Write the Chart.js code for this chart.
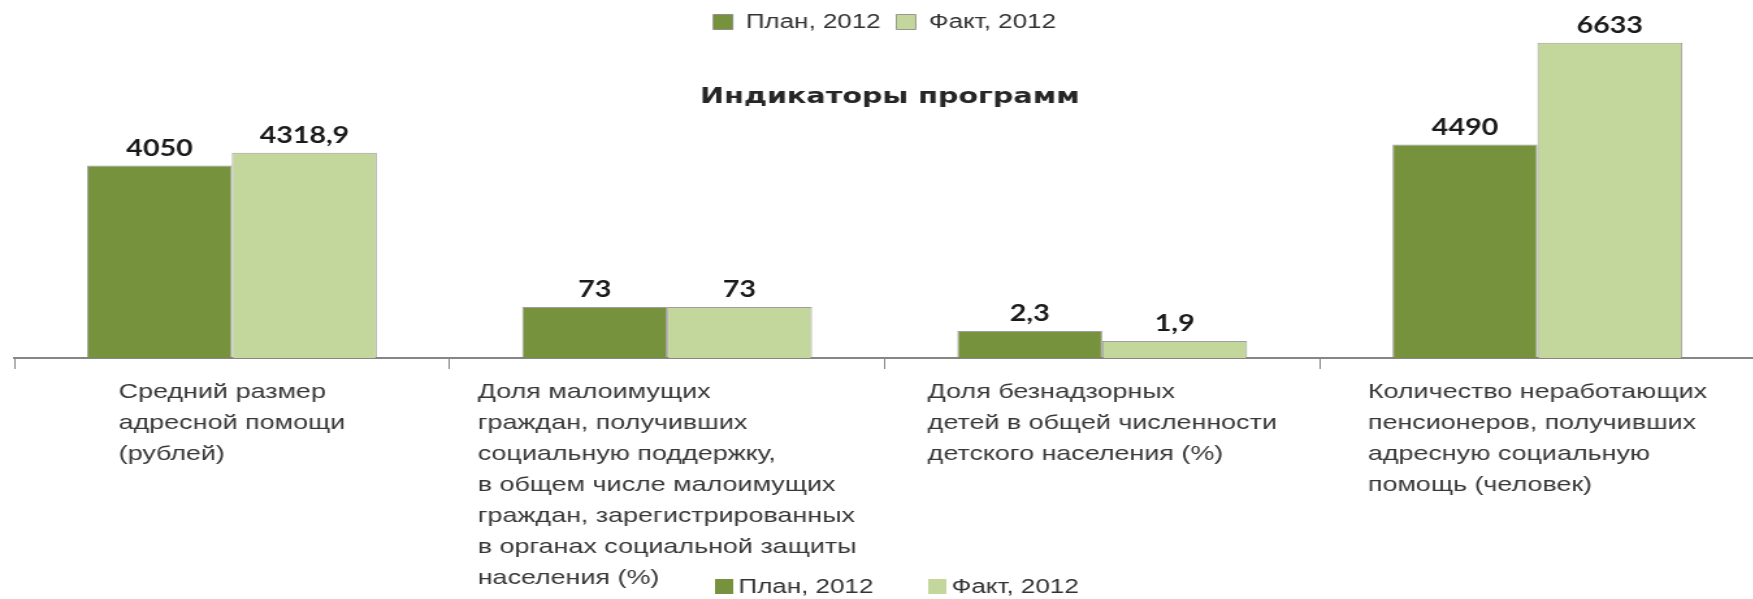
<!DOCTYPE html>
<html>
<head>
<meta charset="utf-8">
<script src="https://cdn.jsdelivr.net/npm/chart.js@4/dist/chart.umd.min.js"></script>
<style>
  html, body { margin: 0; padding: 0; background: #ffffff; overflow: hidden; }
  #wrap { width: 1753px; height: 599px; overflow: hidden; }
</style>
</head>
<body>
<div id="wrap"><canvas id="c" width="1350" height="599" style="display:block;width:1755px;height:599px"></canvas></div>
<script>
// ---- data ----
const categories = [
  ["Средний размер", "адресной помощи", "(рублей)"],
  ["Доля малоимущих", "граждан, получивших", "социальную поддержку,", "в общем числе малоимущих", "граждан, зарегистрированных", "в органах социальной защиты", "населения (%)"],
  ["Доля безнадзорных", "детей в общей численности", "детского населения (%)"],
  ["Количество неработающих", "пенсионеров, получивших", "адресную социальную", "помощь (человек)"]
];
const seriesNames = ["План, 2012", "Факт, 2012"];
const planValues = [4050, 73, 2.3, 4490];
const factValues = [4318.9, 73, 1.9, 6633];
// each indicator has its own unit, so each is drawn on its own value axis
const axisByCategory = ["y", "y2", "y3", "y"];
const chartTitle = "Индикаторы программ";

// ---- styles ----
const seriesColors = ["#76923C", "#C3D69B"];
const axisRanges = { y: [0, 6648], y2: [0, 452], y3: [1.22, 13.86] };

const datasets = [];
[planValues, factValues].forEach((vals, s) => {
  ["y", "y2", "y3"].forEach((axisId, k) => {
    datasets.push({
      label: seriesNames[s],
      data: vals.map((v, i) => axisByCategory[i] === axisId ? v : null),
      yAxisID: axisId,
      stack: "s" + s,
      base: axisRanges[axisId][0],
      backgroundColor: seriesColors[s],
      borderColor: "rgba(125,125,125,0.75)",
      borderWidth: 1,
      categoryPercentage: 0.666,
      barPercentage: 1.0,
      inLegend: k === 0
    });
  });
});

const fmt = v => String(v).replace(".", ",");

const valueLabels = {
  id: "valueLabels",
  afterDatasetsDraw(chart) {
    const ctx = chart.ctx;
    ctx.save();
    ctx.font = "bold 22px Lato";
    ctx.fillStyle = "#1a1a1a";
    ctx.textAlign = "center";
    ctx.textBaseline = "middle";
    chart.data.datasets.forEach((ds, di) => {
      const meta = chart.getDatasetMeta(di);
      meta.data.forEach((el, i) => {
        const v = ds.data[i];
        if (v === null || v === undefined) return;
        ctx.fillText(fmt(v), el.x, el.y - 17);
      });
    });
    ctx.restore();
  }
};

const extras = {
  id: "extras",
  afterDraw(chart) {
    const ctx = chart.ctx;
    const xs = chart.scales.x;
    const area = chart.chartArea;
    ctx.save();
    // title
    ctx.font = "bold 22px 'DejaVu Sans'";
    ctx.fillStyle = "#262626";
    ctx.textAlign = "center";
    ctx.textBaseline = "middle";
    ctx.fillText(chartTitle, (area.left + area.right) / 2 + 4, 97);
    // category labels: block centred under the group, lines left aligned
    ctx.font = "20.7px 'Liberation Sans'";
    ctx.fillStyle = "#383838";
    ctx.textAlign = "left";
    categories.forEach((lines, i) => {
      const cx = xs.getPixelForValue(i);
      const w = Math.max(...lines.map(l => ctx.measureText(l).width));
      lines.forEach((l, k) => ctx.fillText(l, cx - w / 2, 392 + k * 31));
    });
    // bottom legend
    ctx.font = "20px 'Liberation Sans'";
    const items = [[550, 568], [714, 732]];
    items.forEach((p, s) => {
      ctx.fillStyle = seriesColors[s];
      ctx.fillRect(p[0], 579, 14, 15);
      ctx.fillStyle = "#333333";
      ctx.fillText(seriesNames[s], p[1], 587);
    });
    ctx.restore();
  }
};

new Chart(document.getElementById("c"), {
  type: "bar",
  data: { labels: categories, datasets },
  options: {
    responsive: false,
    animation: false,
    devicePixelRatio: 1,
    layout: { padding: { left: 11, right: 0, top: 0, bottom: 230 } },
    plugins: {
      legend: {
        position: "top",
        labels: {
          font: { family: "'Liberation Sans'", size: 20 },
          color: "#333333",
          boxWidth: 15,
          boxHeight: 15,
          padding: 12,
          filter: (item, data) => data.datasets[item.datasetIndex].inLegend
        }
      },
      tooltip: { enabled: false }
    },
    scales: {
      x: {
        offset: true,
        ticks: { display: false },
        grid: { display: true, offset: true, drawOnChartArea: false, tickLength: 11, color: "#868686", lineWidth: 1 },
        border: { display: true, color: "#868686", width: 2 }
      },
      y: { display: false, min: axisRanges.y[0], max: axisRanges.y[1] },
      y2: { display: false, min: axisRanges.y2[0], max: axisRanges.y2[1] },
      y3: { display: false, min: axisRanges.y3[0], max: axisRanges.y3[1] }
    }
  },
  plugins: [valueLabels, extras]
});
</script>
</body>
</html>
